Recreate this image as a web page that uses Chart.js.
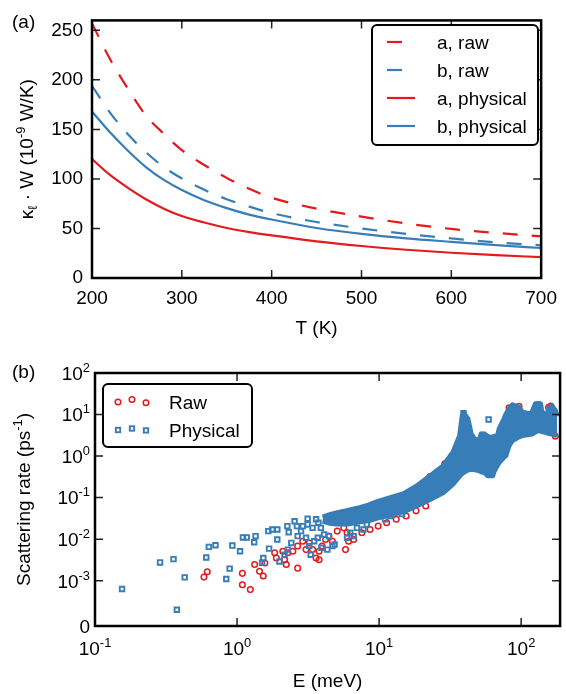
<!DOCTYPE html>
<html>
<head>
<meta charset="utf-8">
<script src="https://cdn.jsdelivr.net/npm/chart.js@4"></script>
<style>
  html, body { margin: 0; padding: 0; background: #fff; }
  #wrap { position: relative; width: 566px; height: 694px; }
  canvas { display: block; }
</style>
</head>
<body>
<div id="wrap">
  <canvas id="chartA" width="566" height="340"></canvas>
  <canvas id="chartB" width="566" height="354"></canvas>
</div>
<script>
// ---------- panel (a): thermal conductance vs temperature ----------
const tempK    = [200, 220, 240, 260, 280, 300, 325, 350, 375, 400, 450, 500, 550, 600, 650, 700];
const aRaw     = [257, 221, 191, 164, 145.5, 129, 114, 101, 90, 81, 70, 62, 55, 49.5, 45.5, 42];
const bRaw     = [194, 167, 145, 127, 112, 100.5, 89, 79.5, 72, 65.5, 56.5, 50, 44.5, 40, 36, 33];
const aPhys    = [120, 104, 91, 79.5, 70, 62.5, 56, 50.5, 46.3, 43, 37, 32.3, 28.5, 25.5, 23.1, 21];
const bPhys    = [168, 147, 128.5, 112, 99, 88.8, 78.5, 70.5, 64, 59, 50.5, 44.5, 40, 36.5, 33.2, 30.3];
const tTicks   = [200, 300, 400, 500, 600, 700];
const kTicks   = [0, 50, 100, 150, 200, 250];

// ---------- panel (b): scattering rate vs energy ----------
const rawE = [0.585, 0.617, 1.09, 1.09, 1.24, 1.33, 1.44, 1.53, 1.57, 1.84, 1.89, 2.10, 2.16, 2.22, 2.28,
  2.47, 2.67, 2.67, 2.90, 3.06, 3.22, 3.40, 3.60, 3.78, 3.78, 3.97, 4.20, 4.43, 4.69, 5.07, 5.64, 5.80,
  5.95, 6.10, 6.62, 7.56, 8.64, 9.85, 11.3, 13.2, 15.5, 18.2, 21.3, 10.1, 22.8, 29, 82.2, 96.6, 156, 162, 174];
const rawRate = [1.22e-3, 1.64e-3, 1.5e-3, 8.0e-4, 6.1e-4, 2.45e-3, 1.68e-3, 1.30e-3, 2.66e-3, 4.7e-3, 3.5e-3,
  5.1e-3, 3.2e-3, 2.45e-3, 4.7e-3, 5.1e-3, 2.0e-3, 6.8e-3, 8.9e-3, 5.6e-3, 8.1e-3, 5.6e-3, 3.5e-3, 3.2e-3,
  5.1e-3, 6.8e-3, 9.8e-3, 1.18e-2, 8.9e-3, 1.56e-2, 1.87e-2, 5.6e-3, 1.42e-2, 8.9e-3, 9.8e-3, 1.42e-2,
  1.71e-2, 2.06e-2, 2.48e-2, 3.0e-2, 3.6e-2, 4.8e-2, 6.3e-2, 7.6e-2, 0.32, 0.65, 14.5, 15.8, 15, 16, 3.0];

const physE = [0.155, 0.287, 0.357, 0.377, 0.428, 0.607, 0.633, 0.705, 0.84, 0.887, 0.927, 1.05, 1.10, 1.17,
  1.35, 1.32, 1.68, 1.53, 1.50, 1.66, 1.77, 1.92, 1.92, 2.26, 2.31, 2.54, 2.64, 2.90, 2.82, 3.14, 3.14, 3.40,
  3.60, 3.74, 3.89, 2.41, 2.28, 2.16, 1.99, 2.67, 3.06, 3.22, 3.30, 3.49, 3.70, 3.93, 4.32, 4.69, 4.86, 4.10,
  4.43, 5.95, 6.27, 6.62, 6.98, 7.76, 8.19, 11.0, 12.0, 14.5, 39.3, 59.0, 53.6];
const physRate = [6.3e-4, 2.75e-3, 3.3e-3, 2.0e-4, 1.2e-3, 3.6e-3, 6.5e-3, 7.1e-3, 1.1e-3, 1.95e-3, 7.0e-3,
  5.1e-3, 1.1e-2, 1.1e-2, 1.18e-2, 8.4e-3, 5.9e-3, 3.5e-3, 2.7e-3, 1.56e-2, 1.71e-2, 1.71e-2, 9.8e-3, 2.06e-2,
  1.47e-2, 2.7e-2, 2.06e-2, 2.06e-2, 1.56e-2, 3.1e-2, 2.26e-2, 1.87e-2, 3.0e-2, 2.48e-2, 1.87e-2, 8.1e-3,
  5.6e-3, 4.2e-3, 2.9e-3, 1.18e-2, 1.08e-2, 6.8e-3, 4.2e-3, 8.9e-3, 1.08e-2, 6.2e-3, 5.6e-3, 6.8e-3, 7.4e-3,
  1.29e-2, 1.18e-2, 1.08e-2, 1.42e-2, 1.18e-2, 1.87e-2, 1.71e-2, 2.26e-2, 3.0e-2, 3.6e-2, 4.0e-2, 10.8, 7.6, 3.2];

// dense cloud of "physical" points above ~4 meV: upper and lower envelope
const bandE      = [4.0, 4.5, 5.0, 6.0, 7.4, 8.5, 9.7, 12.0, 14.9, 18.4, 22.8, 28.2, 33.1, 36.9, 38.5, 39.3,
  41.0, 42.2, 44.5, 46.9, 50.8, 52.2, 55.1, 58.1, 61.2, 63.0, 64.7, 68.2, 70.0, 75.9, 78.0, 82.2, 86.7, 96.6,
  102, 116, 120, 126, 133, 137, 140, 148, 152, 156, 165, 174, 179];
const bandTop    = [0.034, 0.039, 0.043, 0.049, 0.058, 0.067, 0.080, 0.100, 0.125, 0.19, 0.33, 0.58, 1.23, 3.1,
  9.5, 11.0, 9.0, 7.9, 3.4, 2.6, 2.35, 3.4, 3.4, 3.0, 2.8, 2.9, 3.0, 3.1, 4.5, 7.9, 10, 13.8, 17.2, 15.1, 11.4,
  10.4, 12, 18.2, 18.5, 18.2, 11.4, 10, 9.5, 14.3, 16.0, 12.5, 9.0];
const bandBottom = [0.027, 0.024, 0.023, 0.023, 0.026, 0.028, 0.032, 0.038, 0.046, 0.063, 0.09, 0.13, 0.21,
  0.33, 0.38, 0.40, 0.44, 0.46, 0.48, 0.47, 0.44, 0.42, 0.40, 0.334, 0.334, 0.334, 0.44, 0.6, 0.7, 0.95, 1.02,
  1.78, 2.35, 2.9, 3.1, 3.35, 3.4, 3.8, 4.1, 4.0, 3.9, 3.75, 3.6, 3.5, 3.4, 3.2, 3.1];

const eMin = 0.1, eMax = 188;
const rateMin = 8.1e-5, rateMax = 100;
const eTicks = [0.1, 1, 10, 100];
const eTickExp = ['-1', '0', '1', '2'];
const rateTicks = [rateMin, 1e-3, 1e-2, 1e-1, 1, 10, 100];
const rateTickBase = ['0', '10', '10', '10', '10', '10', '10'];
const rateTickExp = ['', '-3', '-2', '-1', '0', '1', '2'];

const RED = '#e41a1c';
const BLUE = '#377eb8';
const FONT = '"Liberation Sans", Arial, Helvetica, sans-serif';

// ---------- helpers ----------
const pts = (xs, ys) => xs.map((x, i) => ({ x: x, y: ys[i] }));

// parts: [[text], [text, 'sup'], [text, 'sub']]
function partsWidth(ctx, parts, size) {
  let w = 0;
  parts.forEach(p => {
    ctx.font = (p[1] ? size * 0.68 : size) + 'px ' + FONT;
    w += ctx.measureText(p[0]).width;
  });
  return w;
}

function drawParts(ctx, parts, x, yMid, size, align) {
  const w = partsWidth(ctx, parts, size);
  let cx = align === 'right' ? x - w : align === 'center' ? x - w / 2 : x;
  const base = yMid + size * 0.36;
  ctx.textAlign = 'left';
  ctx.textBaseline = 'alphabetic';
  ctx.fillStyle = '#000';
  parts.forEach(p => {
    const fs = p[1] ? size * 0.68 : size;
    ctx.font = fs + 'px ' + FONT;
    const dy = p[1] === 'sup' ? -size * 0.42 : p[1] === 'sub' ? size * 0.22 : 0;
    ctx.fillText(p[0], cx, base + dy);
    cx += ctx.measureText(p[0]).width;
  });
}

function roundBox(ctx, x, y, w, h, r) {
  ctx.beginPath();
  ctx.moveTo(x + r, y);
  ctx.arcTo(x + w, y, x + w, y + h, r);
  ctx.arcTo(x + w, y + h, x, y + h, r);
  ctx.arcTo(x, y + h, x, y, r);
  ctx.arcTo(x, y, x + w, y, r);
  ctx.closePath();
  ctx.fillStyle = '#fff';
  ctx.fill();
  ctx.lineWidth = 2;
  ctx.strokeStyle = '#000';
  ctx.stroke();
}

// inward ticks on all four sides plus the black frame
function drawFrame(chart, xTicks, yTicks) {
  const { ctx, chartArea: a } = chart;
  const sx = chart.scales.x, sy = chart.scales.y;
  ctx.save();
  ctx.strokeStyle = '#222';
  ctx.lineWidth = 1.5;
  ctx.beginPath();
  xTicks.forEach(v => {
    const px = sx.getPixelForValue(v);
    ctx.moveTo(px, a.bottom); ctx.lineTo(px, a.bottom - 8);
    ctx.moveTo(px, a.top); ctx.lineTo(px, a.top + 8);
  });
  yTicks.forEach(v => {
    const py = sy.getPixelForValue(v);
    ctx.moveTo(a.left, py); ctx.lineTo(a.left + 8, py);
    ctx.moveTo(a.right, py); ctx.lineTo(a.right - 8, py);
  });
  ctx.stroke();
  ctx.lineWidth = 2.5;
  ctx.strokeStyle = '#000';
  ctx.strokeRect(a.left, a.top, a.right - a.left, a.bottom - a.top);
  ctx.restore();
}

const baseOptions = {
  responsive: false,
  animation: false,
  events: [],
  plugins: { legend: { display: false }, tooltip: { enabled: false } }
};

// ---------- chart (a) ----------
const decorA = {
  id: 'decorA',
  afterDraw(chart) {
    const ctx = chart.ctx;
    const a = chart.chartArea;
    drawFrame(chart, tTicks, kTicks);
    ctx.save();
    // legend
    roundBox(ctx, 372, 25, 166, 120, 5);
    chart.data.datasets.forEach((ds, i) => {
      const yy = 42 + i * 28;
      ctx.beginPath();
      ctx.setLineDash(ds.borderDash || []);
      ctx.strokeStyle = ds.borderColor;
      ctx.lineWidth = ds.borderWidth;
      ctx.moveTo(387, yy);
      ctx.lineTo(415, yy);
      ctx.stroke();
      ctx.setLineDash([]);
      drawParts(ctx, [[ds.label]], 437, yy, 19, 'left');
    });
    // titles
    drawParts(ctx, [['T (K)']], (a.left + a.right) / 2, 327, 19, 'center');
    ctx.translate(26, (a.top + a.bottom) / 2);
    ctx.rotate(-Math.PI / 2);
    drawParts(ctx, [['κ'], ['ℓ', 'sub'], [' · W (10'], ['-9', 'sup'], [' W/K)']], 0, 0, 19, 'center');
    ctx.restore();
    ctx.save();
    drawParts(ctx, [['(a)']], 12, 21, 19, 'left');
    ctx.restore();
  }
};

const lineStyle = (label, values, color, dashed) => ({
  label: label,
  data: pts(tempK, values),
  borderColor: color,
  borderWidth: 2.2,
  borderDash: dashed ? [15, 14] : [],
  pointRadius: 0,
  cubicInterpolationMode: 'monotone',
  fill: false
});

new Chart(document.getElementById('chartA'), {
  type: 'line',
  data: {
    datasets: [
      lineStyle('a, raw', aRaw, RED, true),
      lineStyle('b, raw', bRaw, BLUE, true),
      lineStyle('a, physical', aPhys, RED, false),
      lineStyle('b, physical', bPhys, BLUE, false)
    ]
  },
  options: {
    ...baseOptions,
    layout: { padding: { left: 0, top: 14, right: 17, bottom: 0 } },
    scales: {
      x: {
        type: 'linear', min: 200, max: 700,
        afterFit: s => { s.height = 62; },
        afterBuildTicks: s => { s.ticks = tTicks.map(v => ({ value: v })); },
        grid: { display: false, drawTicks: false },
        border: { display: false },
        ticks: { padding: 9, maxRotation: 0, autoSkip: false, color: '#000', font: { family: FONT, size: 19 } }
      },
      y: {
        type: 'linear', min: 0, max: 260,
        afterFit: s => { s.width = 92; },
        afterBuildTicks: s => { s.ticks = kTicks.map(v => ({ value: v })); },
        grid: { display: false, drawTicks: false },
        border: { display: false },
        ticks: { padding: 9, color: '#000', font: { family: FONT, size: 19 } }
      }
    }
  },
  plugins: [decorA]
});

// ---------- chart (b) ----------
const decorB = {
  id: 'decorB',
  afterDraw(chart) {
    const ctx = chart.ctx;
    const a = chart.chartArea;
    const sx = chart.scales.x, sy = chart.scales.y;
    drawFrame(chart, eTicks, rateTicks);
    ctx.save();
    eTicks.forEach((v, i) => {
      drawParts(ctx, [['10'], [eTickExp[i], 'sup']], sx.getPixelForValue(v), a.bottom + 22, 19, 'center');
    });
    rateTicks.forEach((v, i) => {
      const parts = rateTickExp[i] ? [[rateTickBase[i]], [rateTickExp[i], 'sup']] : [[rateTickBase[i]]];
      drawParts(ctx, parts, a.left - 5, sy.getPixelForValue(v), 19, 'right');
    });
    // legend
    roundBox(ctx, 103, 44, 149, 63, 5);
    const offs = [0, -2.5, 0.7];
    [118, 132, 146].forEach((mx, k) => {
      ctx.beginPath();
      ctx.arc(mx, 62 + offs[k], 2.8, 0, Math.PI * 2);
      ctx.lineWidth = 1.5;
      ctx.strokeStyle = RED;
      ctx.stroke();
      ctx.lineWidth = 1.9;
      ctx.strokeStyle = BLUE;
      ctx.strokeRect(mx - 2.2, 90 + offs[k] * 0.6 - 2.2, 4.4, 4.4);
    });
    drawParts(ctx, [['Raw']], 169, 62, 19, 'left');
    drawParts(ctx, [['Physical']], 169, 90, 19, 'left');
    // titles
    drawParts(ctx, [['E (meV)']], (a.left + a.right) / 2, 340, 19, 'center');
    drawParts(ctx, [['(b)']], 12, 31, 19, 'left');
    ctx.translate(23, (a.top + a.bottom) / 2);
    ctx.rotate(-Math.PI / 2);
    drawParts(ctx, [['Scattering rate (ps'], ['-1', 'sup'], [')']], 0, 0, 19, 'center');
    ctx.restore();
  }
};

new Chart(document.getElementById('chartB'), {
  type: 'scatter',
  data: {
    datasets: [
      {
        label: 'Physical',
        data: pts(physE, physRate),
        pointStyle: 'rect',
        pointRadius: 3.2,
        pointBorderWidth: 1.9,
        borderColor: BLUE,
        backgroundColor: 'rgba(0,0,0,0)',
        order: 0
      },
      {
        type: 'line',
        data: pts(bandE, bandTop),
        borderColor: BLUE,
        borderWidth: 5,
        borderJoinStyle: 'round',
        pointRadius: 0,
        fill: false,
        order: 1
      },
      {
        type: 'line',
        data: pts(bandE, bandBottom),
        borderColor: BLUE,
        borderWidth: 5,
        borderJoinStyle: 'round',
        backgroundColor: BLUE,
        pointRadius: 0,
        fill: '-1',
        order: 1
      },
      {
        label: 'Raw',
        data: pts(rawE, rawRate),
        pointStyle: 'circle',
        pointRadius: 2.8,
        pointBorderWidth: 1.5,
        borderColor: RED,
        backgroundColor: 'rgba(0,0,0,0)',
        order: 2
      }
    ]
  },
  options: {
    ...baseOptions,
    layout: { padding: { left: 0, top: 33, right: 1, bottom: 0 } },
    scales: {
      x: {
        type: 'logarithmic', min: eMin, max: eMax,
        afterFit: s => { s.height = 68; },
        grid: { display: false, drawTicks: false },
        border: { display: false },
        ticks: { display: false }
      },
      y: {
        type: 'logarithmic', min: rateMin, max: rateMax,
        afterFit: s => { s.width = 95; },
        grid: { display: false, drawTicks: false },
        border: { display: false },
        ticks: { display: false }
      }
    }
  },
  plugins: [decorB]
});
</script>
</body>
</html>
